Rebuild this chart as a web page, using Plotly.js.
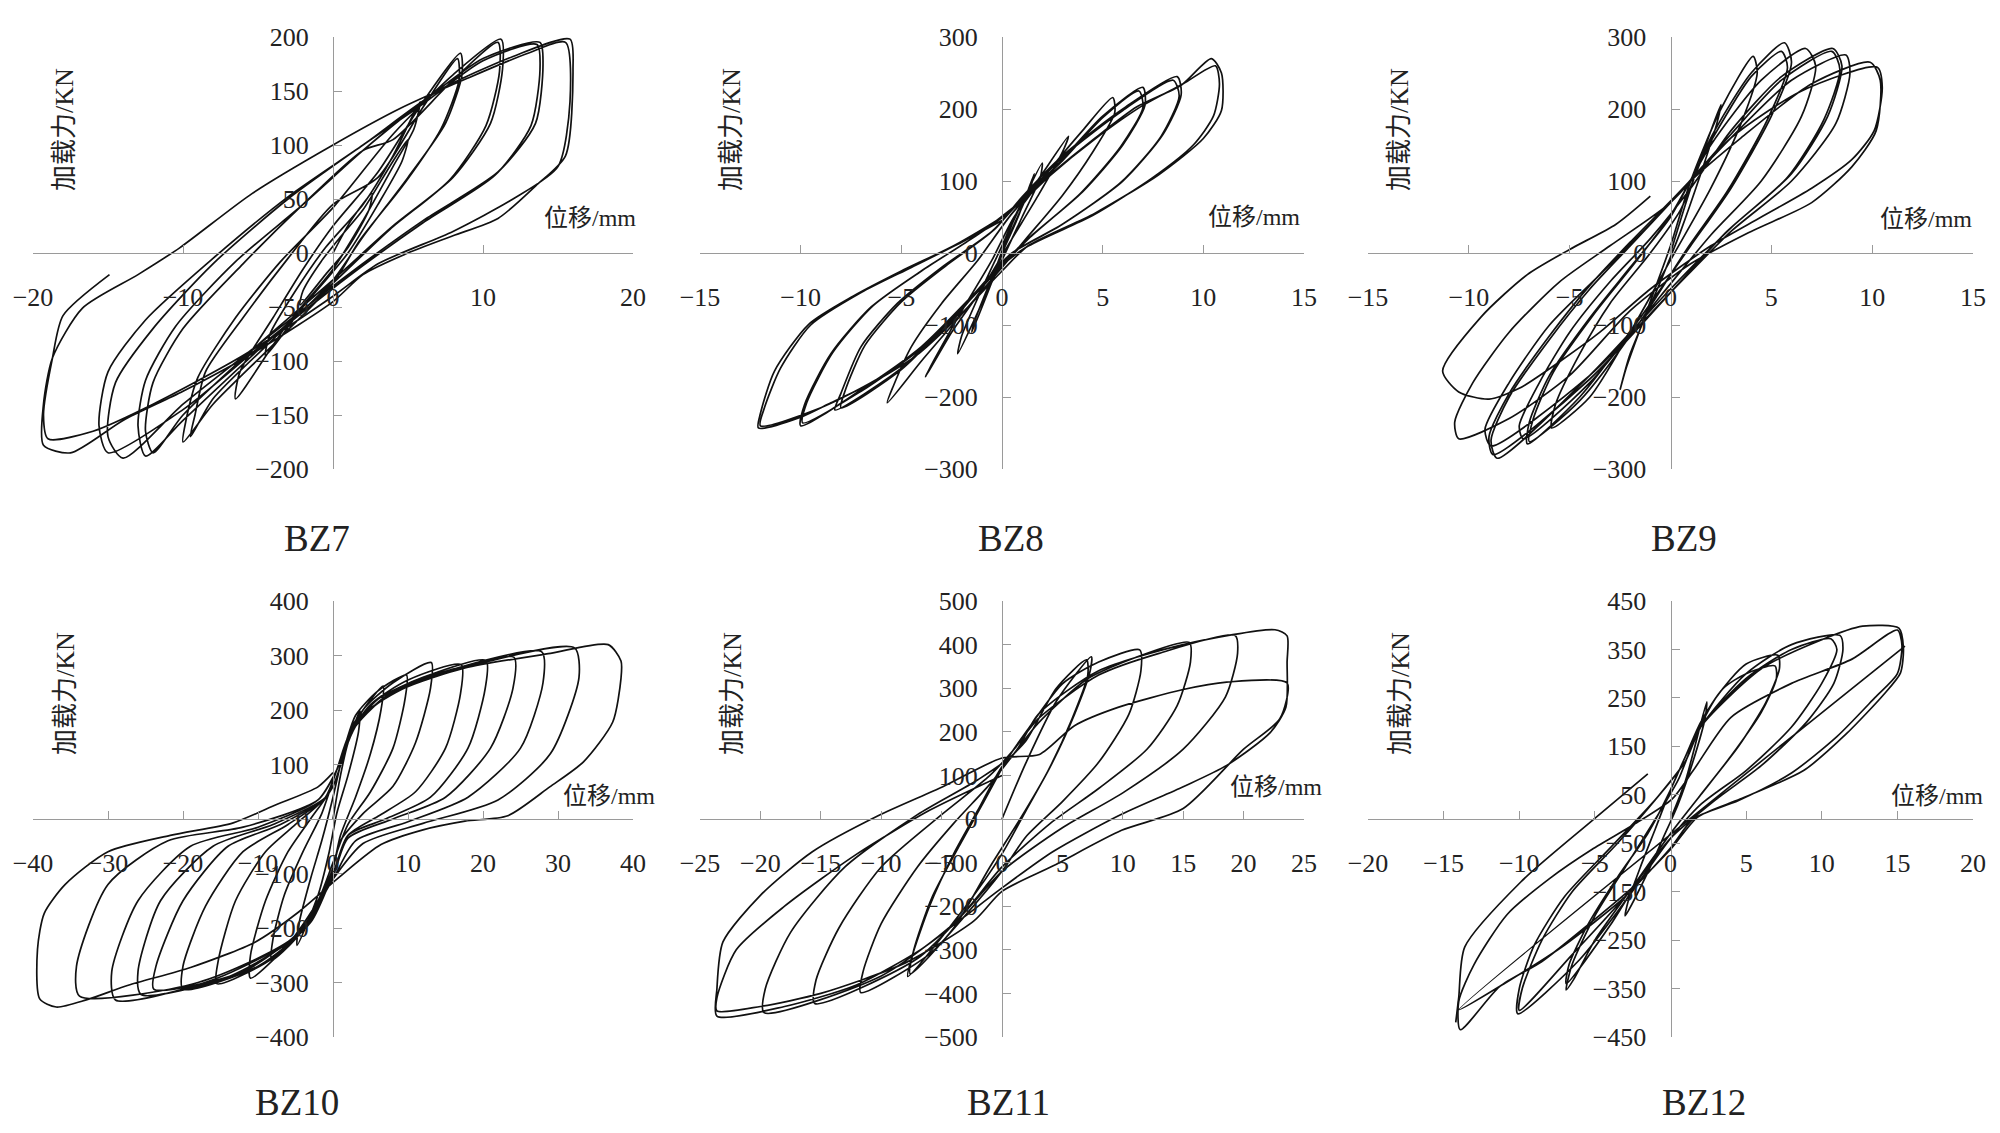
<!DOCTYPE html>
<html>
<head>
<meta charset="utf-8">
<script src="https://cdn.plot.ly/plotly-3.0.1.min.js"></script>
<style>
  html, body { margin: 0; padding: 0; background: #fff; }
  #chart { width: 2000px; height: 1133px; }
</style>
</head>
<body>
<div id="chart"></div>
<script>
// 位移 (mm), 加载力 (KN), one continuous path per specimen
const bz7Points = [
  [0,0],[1.2,30],[2.6,55],[2.4,40],[1,5],[-0.5,-20],[-2.2,-48],[-2,-35],[-0.8,-8],[0.5,15],
  [2,40],[4,85],[5,105],[4.6,85],[3,45],[1,0],[-2,-50],[-4.5,-95],[-4.2,-75],[-2.5,-35],[-0.5,5],
  [2,45],[4,90],[5.8,140],[5.4,115],[4,80],[2,30],[0,-15],[-3,-65],[-6.5,-135],[-6.2,-110],[-4,-60],[-2,-15],[0,25],
  [3,75],[6,140],[8.5,185],[8.6,165],[7.5,120],[5,70],[2,15],[0,-25],[-4,-80],[-8,-135],[-9.5,-170],[-9.2,-150],[-8.5,-110],[-6,-60],[-3,-5],[0,45],
  [3,70],[6,135],[8.3,180],[8.4,160],[7.2,115],[4.8,65],[1.8,12],[0,-28],[-4,-85],[-8,-140],[-10,-175],[-9.8,-155],[-9,-115],[-6.5,-60],[-3.5,-8],[0,42],
  [4,110],[8,165],[11.2,198],[11.3,170],[10.5,120],[8,70],[4,25],[0,-25],[-5,-85],[-10,-150],[-12,-185],[-12.5,-165],[-12,-120],[-10,-70],[-6,-10],[-2,45],[2,95],
  [4,105],[8,160],[11,195],[11.1,168],[10.2,118],[7.8,68],[3.8,22],[0,-28],[-5,-90],[-10,-155],[-12.5,-188],[-13,-160],[-12.5,-118],[-10.5,-68],[-6.5,-8],[-2,45],[2,95],
  [6,140],[10,180],[13.8,195],[14,175],[13.5,120],[11,75],[6,30],[1,-20],[-5,-85],[-10,-140],[-14,-190],[-15,-170],[-14.5,-120],[-12,-70],[-8,-10],[-3,50],[2,100],
  [6,138],[10,178],[13.6,193],[13.8,170],[13.2,118],[10.8,72],[6,28],[1,-22],[-5,-88],[-10,-145],[-15,-185],[-15.6,-160],[-15,-110],[-12.5,-62],[-8,-5],[-3,52],[2,100],
  [7,150],[12,182],[15.8,198],[16,170],[15.5,90],[13.5,62],[11,32],[8,16],[5,0],[2,-20],[0,-45],[-5,-90],[-10,-128],[-14,-155],[-17.5,-185],[-19.3,-178],[-19.3,-140],[-18.7,-97],[-16.7,-51],[-13,-20],[-10.2,5],[-5.4,55],[0,100],[4.5,134],[9,162],[13,185],[15.5,195],
  [15.8,140],[15,80],[12,50],[8,20],[3,-10],[0,-40],[-6,-95],[-12,-140],[-16,-165],[-19,-172],[-19.3,-150],[-18.7,-97],[-18,-58],[-14.9,-20]
];

const bz8Points = [
  [0,0],[0.8,50],[1.6,110],[1.4,90],[0.3,20],[-0.5,-40],[-1.5,-110],[-1.3,-90],[-0.3,-20],[0.5,40],
  [1,70],[2,125],[1.9,105],[1,50],[0,-10],[-1,-70],[-2.2,-140],[-2,-115],[-1,-50],[0,10],[0.8,60],
  [2,110],[3.3,162],[3,140],[1.8,80],[0.5,20],[-1,-50],[-2.5,-110],[-3.8,-172],[-3.4,-150],[-2.2,-90],[-0.5,-10],[0.6,50],
  [2.5,120],[4,170],[5.5,216],[5.6,195],[4.5,140],[3,80],[1.2,20],[0,-20],[-2,-85],[-4,-150],[-5.7,-208],[-5.4,-185],[-4.5,-130],[-3,-70],[-1.2,-10],[0.5,55],
  [3,130],[5,190],[7,230],[7.1,205],[6,150],[4,85],[1.5,25],[0,-15],[-2.5,-90],[-5,-160],[-8.3,-218],[-8,-195],[-7,-130],[-5.2,-70],[-3,-20],[-0.5,30],[1,75],
  [3,128],[5,188],[6.8,225],[7,202],[5.9,148],[3.9,83],[1.4,22],[0,-18],[-2.5,-92],[-5,-162],[-8,-215],[-7.8,-192],[-6.8,-128],[-5,-68],[-2.8,-18],[-0.4,32],[1,78],
  [3,135],[6,200],[8.7,245],[8.9,220],[8,165],[6,100],[3,40],[0.5,0],[-1.5,-60],[-4,-130],[-7,-190],[-10,-240],[-9.8,-210],[-8.5,-140],[-6.5,-75],[-4,-25],[-1.5,20],[0.5,60],
  [3,133],[6,198],[8.5,240],[8.8,218],[7.9,162],[5.9,98],[2.9,38],[0.4,-2],[-1.5,-62],[-4,-132],[-7,-192],[-9.9,-236],[-9.7,-208],[-8.4,-138],[-6.4,-73],[-3.9,-23],[-1.4,22],[0.5,62],
  [2.4,109],[4.6,159],[6.7,203],[8.9,233],[10.4,270],[10.9,250],[10.9,198],[10,159],[7.8,109],[4.6,55],[1.3,10],[0,-25],[-2,-84],[-4.1,-139],[-6.3,-178],[-8.5,-208],[-10,-228],[-12.1,-243],[-12,-223],[-11.3,-164],[-9.6,-99],[-7.4,-60],[-5,-25],[-2.4,10],[0,50],[1.3,79],
  [2.4,108],[4.6,158],[7,205],[9,235],[10.6,260],[10.8,235],[10.5,190],[9.5,150],[7.5,105],[4.5,52],[1.2,8],[-0.5,-30],[-3,-110],[-6,-172],[-9,-215],[-12,-240],[-11.8,-215],[-11,-160],[-9.5,-100],[-7,-55],[-4.5,-20],[-2,15],[0,45]
];

const bz9Points = [
  [0,0],[1,90],[2.5,206],[2.3,180],[1.5,110],[0.5,30],[-0.5,-40],[-2,-140],[-2.5,-190],[-2.2,-160],[-1.3,-90],[0,10],
  [1,100],[2.5,200],[4.1,273],[4.3,250],[3.5,180],[2,90],[0,-10],[-2,-110],[-4,-200],[-5.9,-243],[-5.7,-210],[-4.5,-140],[-3,-70],[-1,0],[0.5,60],
  [2,160],[4,250],[5.65,292],[6,265],[5,190],[3,90],[1,10],[-1.5,-90],[-4.5,-200],[-7.1,-265],[-7,-235],[-6,-170],[-4,-90],[-2,-20],[0,50],
  [2,155],[4,245],[5.5,280],[5.8,258],[4.8,185],[2.8,85],[0.8,5],[-1.5,-95],[-4.5,-205],[-7,-262],[-6.8,-230],[-5.8,-165],[-3.8,-85],[-1.8,-15],[0,52],
  [2,150],[4.5,240],[6.7,284],[7.2,260],[6.5,190],[4.5,100],[2,25],[-0.5,-60],[-4,-180],[-7.3,-258],[-7.5,-240],[-6.5,-180],[-5,-110],[-3,-40],[-1,20],[1,90],
  [3,170],[5.5,245],[8.05,284],[8.5,260],[7.8,190],[6,110],[3,35],[0,-50],[-4,-170],[-8.6,-285],[-8.9,-260],[-8,-200],[-6,-120],[-4,-50],[-2,10],[0,70],
  [3,165],[5.5,240],[8,280],[8.4,255],[7.6,185],[5.8,105],[2.8,30],[0,-55],[-4,-175],[-8.8,-280],[-9,-255],[-8,-195],[-6,-115],[-4,-45],[-2,15],[0,72],
  [3,160],[6,240],[8.7,275],[8.9,250],[8.2,180],[6,100],[3,30],[0,-55],[-4,-170],[-8.9,-268],[-9.2,-245],[-8,-180],[-6,-100],[-3.5,-30],[-1,40],[1,100],
  [3.5,160],[7,235],[9.9,265],[10.4,240],[10.2,170],[9,120],[7,70],[4,30],[1,-15],[-2,-80],[-5,-170],[-8,-230],[-10.5,-258],[-10.7,-235],[-9.8,-180],[-8,-110],[-5.5,-40],[-3,10],[0,70],
  [3,160],[6.5,225],[10.25,258],[10.5,230],[10.1,170],[9,130],[7,90],[4.5,50],[2,10],[-1,-50],[-3.5,-110],[-5.4,-149],[-7.5,-188],[-9,-203],[-10.5,-193],[-11.3,-164],[-9.4,-89],[-7.1,-30],[-5,5],[-2.7,40],[-1,79]
];

const bz10Points = [
  [0,0],[1,80],[2,140],[3.6,198],[3.4,160],[2,80],[0.5,10],[-0.5,-60],[-2,-140],[-4.8,-232],[-4.5,-190],[-3,-110],[-1.5,-40],[0,40],[1,100],
  [2,150],[4,200],[6.7,244],[6.4,200],[5,120],[3,40],[1,-30],[0,-90],[-2,-160],[-5,-220],[-8.2,-259],[-8,-220],[-6.5,-140],[-4,-60],[-1.5,10],[0,70],[1.5,130],
  [3,190],[6,235],[9.8,264],[9.6,220],[8,130],[5,50],[2,-10],[0,-80],[-2,-150],[-6,-230],[-11,-292],[-11,-250],[-9,-150],[-6,-60],[-3,0],[0,60],[2,140],
  [4,200],[8,250],[13.1,287],[13,240],[11,140],[8,60],[4,10],[1,-40],[0,-90],[-3,-180],[-8,-255],[-15.5,-302],[-15.3,-260],[-13,-150],[-9,-60],[-5,-10],[-1,40],[0.5,90],[2,150],
  [5,210],[10,255],[17.1,283],[17,230],[15,130],[11,50],[6,5],[2,-30],[0,-100],[-3,-190],[-10,-270],[-20,-312],[-20,-270],[-17,-160],[-12,-60],[-6,-10],[-1,40],[0.5,90],[3,170],
  [6,220],[12,260],[20.4,291],[20.3,240],[18,130],[13,40],[7,0],[2,-30],[0,-100],[-4,-200],[-12,-280],[-23.9,-312],[-23.6,-270],[-20,-150],[-14,-50],[-7,-10],[-1,40],[0.5,90],[3,170],
  [7,225],[14,265],[24.1,297],[24,240],[21,130],[15,40],[8,0],[2,-35],[0,-105],[-4,-205],[-14,-290],[-25.6,-322],[-26,-280],[-23,-150],[-16,-50],[-8,-10],[-1,40],[0.5,90],[3,170],
  [8,235],[16,275],[27.8,307],[28,250],[25,130],[18,40],[10,-5],[3,-40],[0,-110],[-5,-215],[-16,-295],[-29,-332],[-29.5,-280],[-26,-150],[-19,-50],[-10,-15],[-2,35],[0.5,90],[3,175],
  [9,240],[18,280],[32.2,314],[32.8,260],[29,120],[22,35],[12,-8],[4,-45],[0,-110],[-5,-215],[-18,-300],[-33.8,-325],[-34.2,-270],[-30,-120],[-22,-40],[-12,-15],[-2,35],[0.5,90],[3,180],
  [9.2,238],[17.6,277],[29,304],[36.7,320],[38.4,290],[38.4,258],[37.3,178],[33.4,105],[28.9,59],[23.3,6],[17.6,-4],[12,-20],[6.4,-47],[0.8,-107],[-4.8,-173],[-10.4,-226],[-18.9,-272],[-27.3,-305],[-32.9,-332],[-36.9,-345],[-39.1,-330],[-39.4,-239],[-38.5,-173],[-35.7,-120],[-30,-60],[-21.7,-30],[-13.3,-7],[-7.6,26],[-2,59],[0,85]
];

const bz11Points = [
  [0,0],[2,130],[4.5,270],[7.4,372],[7.3,340],[6,240],[4,120],[2,20],[0,-80],[-3,-200],[-7.8,-361],[-7.5,-320],[-6,-200],[-4,-80],[-2,20],[0,120],
  [2,180],[4.5,300],[7,365],[7.1,330],[5.8,230],[3.8,110],[1.5,0],[-1,-110],[-4,-250],[-7.6,-355],[-7.3,-300],[-5.8,-180],[-3.5,-60],[-1.5,40],[0.5,140],
  [2,200],[5,310],[8,360],[11.4,388],[11.5,340],[10.5,240],[8,130],[5,40],[2,-40],[0,-120],[-3,-220],[-6,-310],[-11.7,-398],[-11.5,-350],[-10,-240],[-7,-110],[-4,-10],[-1,80],[1,150],
  [3,220],[7,320],[11,370],[15.5,405],[15.6,360],[14.5,260],[12,160],[8,70],[4,-10],[0,-110],[-3,-210],[-7,-320],[-15.5,-423],[-15.4,-370],[-13.5,-250],[-10,-110],[-5,10],[-1,100],[1,160],
  [3,230],[8,330],[13,380],[19.3,421],[19.5,380],[18.5,280],[15,160],[10,60],[5,-20],[0,-120],[-4,-240],[-10,-360],[-19.7,-444],[-19.6,-390],[-17.5,-260],[-13,-110],[-7,10],[-2,90],[1,150],
  [3,240],[8,340],[15,400],[22.6,434],[23.6,420],[23.6,360],[23.5,256],[22.2,198],[18.6,123],[15,74],[9.6,7],[4.2,-75],[0,-158],[-3.1,-224],[-6.7,-299],[-12,-380],[-18,-430],[-23.6,-452],[-23.6,-390],[-23.1,-282],[-20,-175],[-15.7,-75],[-10.3,7],[-4.9,74],[0,140],
  [3.1,148],[6,214],[9.6,256],[15,297],[18.6,314],[23.6,312],[23,230],[20,160],[15,24],[9.9,-26],[4.2,-108],[0,-166],[-2.3,-233],[-8,-330],[-15,-400],[-20,-430],[-23.6,-440],[-23.6,-410],[-22,-300],[-18,-200],[-12,-80],[-6,20],[0,100]
];

const bz12Points = [
  [0,0],[1,80],[2.4,242],[2.3,210],[1.5,120],[0.5,30],[-0.5,-40],[-1.5,-110],[-3,-200],[-2.8,-170],[-2,-100],[-1,-20],[0,60],
  [1,130],[2,200],[3.5,270],[5,300],[6.9,316],[7,290],[6,220],[4,130],[2,50],[0,-30],[-2,-120],[-4,-220],[-6.9,-340],[-6.7,-300],[-5.5,-220],[-3.5,-120],[-1.5,-30],[0,60],
  [1,130],[3,250],[5,320],[7.1,338],[7.2,310],[6.3,240],[4.5,150],[2.5,70],[0,-30],[-2.5,-140],[-5,-250],[-6.4,-331],[-6.9,-353],[-6.5,-300],[-5,-200],[-3,-100],[-1,0],[0.5,80],
  [2,190],[5,290],[8,350],[10.6,372],[11,350],[10,280],[8,190],[5,100],[2,30],[0,-40],[-3,-170],[-6,-290],[-10.1,-402],[-10,-350],[-9,-260],[-7,-160],[-4,-60],[-1,40],[1,120],
  [2,190],[5,300],[8,360],[11.2,379],[11.4,350],[10.8,280],[9,200],[6,110],[3,40],[0,-40],[-3,-160],[-6.5,-280],[-10,-395],[-9.8,-350],[-8.5,-250],[-6.5,-150],[-3.5,-50],[-1,40],[1,120],
  [2,190],[6,310],[10,370],[12.7,398],[15.1,394],[15.4,353],[15.2,301],[14.1,257],[11.6,175],[8.8,100],[4.6,41],[1.8,4],[0,-63],[-2.4,-138],[-5.2,-212],[-8.5,-294],[-11.3,-346],[-13.9,-435],[-14,-376],[-13,-301],[-10.8,-197],[-8,-123],[-5.2,-63],[-2.4,-11],[0.1,41],[1.5,100],
  [4,210],[8,280],[12,330],[15,390],[15.3,360],[15,300],[13.5,250],[11,170],[8,95],[4.5,38],[1.5,0],[0,-60],[-3,-160],[-7,-260],[-11,-340],[-14,-394],[15.5,357],
  [null,null],[-14.2,-420],[-14,-368],[-13.6,-264],[-9.9,-130],[-5.2,-4],[-1.5,93]
];

const panelNames = ['BZ7', 'BZ8', 'BZ9', 'BZ10', 'BZ11', 'BZ12'];
const panelPoints = [bz7Points, bz8Points, bz9Points, bz10Points, bz11Points, bz12Points];
const dispLimits = [20, 15, 15, 40, 25, 20];
const dispSteps = [10, 5, 5, 10, 5, 5];
const loadLimits = [200, 300, 300, 400, 500, 450];
const loadSteps = [50, 100, 100, 100, 100, 100];
const loadTick0 = [0, 0, 0, 0, 0, 50];

const W = 2000, H = 1133;
const px = v => v / W;
const py = v => 1 - v / H;

// plot boxes in pixels: [left, right], [top, bottom]
const colBox = [[33, 633], [700, 1304], [1368, 1973]];
const rowBox = [[37, 469], [601, 1037]];
const titlePos = [[317, 538], [1011, 538], [1684, 538], [297, 1102], [1009, 1102], [1704, 1102]];
const dispLabelPos = [[638, 218], [1302, 217], [1974, 219], [657, 796], [1324, 787], [1985, 796]];

const serif = 'Liberation Serif, Times New Roman, serif';
const cjk = 'Liberation Serif, Noto Sans CJK SC, serif';

const traces = [];
const layout = {
  width: W,
  height: H,
  margin: { l: 0, r: 0, t: 0, b: 0 },
  paper_bgcolor: '#fff',
  plot_bgcolor: 'rgba(0,0,0,0)',
  showlegend: false,
  annotations: []
};

panelNames.forEach((name, i) => {
  const col = i % 3;
  const row = Math.floor(i / 3);
  const sfx = i === 0 ? '' : String(i + 1);
  const pts = panelPoints[i];

  traces.push({
    x: pts.map(p => p[0]),
    y: pts.map(p => p[1]),
    xaxis: 'x' + sfx,
    yaxis: 'y' + sfx,
    type: 'scatter',
    mode: 'lines',
    connectgaps: false,
    line: { color: '#111', width: 1.7, shape: 'spline', smoothing: 0.7 },
    hoverinfo: 'skip'
  });

  const xd = [px(colBox[col][0]), px(colBox[col][1])];
  const yd = [py(rowBox[row][1]), py(rowBox[row][0])];

  layout['xaxis' + sfx] = {
    domain: xd,
    range: [-dispLimits[i], dispLimits[i]],
    dtick: dispSteps[i],
    tick0: 0,
    anchor: 'free',
    position: (yd[0] + yd[1]) / 2,
    showline: true,
    linecolor: '#9a9a9a',
    linewidth: 1,
    ticks: 'inside',
    ticklen: 8,
    tickcolor: '#9a9a9a',
    showgrid: false,
    zeroline: false,
    ticklabelstandoff: 21,
    tickfont: { family: serif, size: 26, color: '#222' },
    fixedrange: true
  };
  layout['yaxis' + sfx] = {
    domain: yd,
    range: [-loadLimits[i], loadLimits[i]],
    dtick: loadSteps[i],
    tick0: loadTick0[i],
    anchor: 'free',
    position: (xd[0] + xd[1]) / 2,
    showline: true,
    linecolor: '#9a9a9a',
    linewidth: 1,
    ticks: 'inside',
    ticklen: 8,
    tickcolor: '#9a9a9a',
    showgrid: false,
    zeroline: false,
    ticklabelstandoff: 19,
    tickfont: { family: serif, size: 26, color: '#222' },
    fixedrange: true
  };

  layout.annotations.push({
    text: name,
    xref: 'paper', yref: 'paper',
    x: px(titlePos[i][0]), y: py(titlePos[i][1]),
    xanchor: 'center', yanchor: 'middle',
    showarrow: false,
    font: { family: serif, size: 37, color: '#222' }
  });
  layout.annotations.push({
    text: '加载力/KN',
    xref: 'paper', yref: 'paper',
    x: px(colBox[col][0] + 32), y: py(rowBox[row][0] + 93),
    xanchor: 'center', yanchor: 'middle',
    textangle: -90,
    showarrow: false,
    font: { family: cjk, size: 26, color: '#222' }
  });
  layout.annotations.push({
    text: '位移/mm',
    xref: 'paper', yref: 'paper',
    x: px(dispLabelPos[i][0]), y: py(dispLabelPos[i][1]),
    xanchor: 'right', yanchor: 'middle',
    showarrow: false,
    font: { family: cjk, size: 24, color: '#222' }
  });
});

Plotly.newPlot('chart', traces, layout, { displayModeBar: false, staticPlot: true });
</script>
</body>
</html>
